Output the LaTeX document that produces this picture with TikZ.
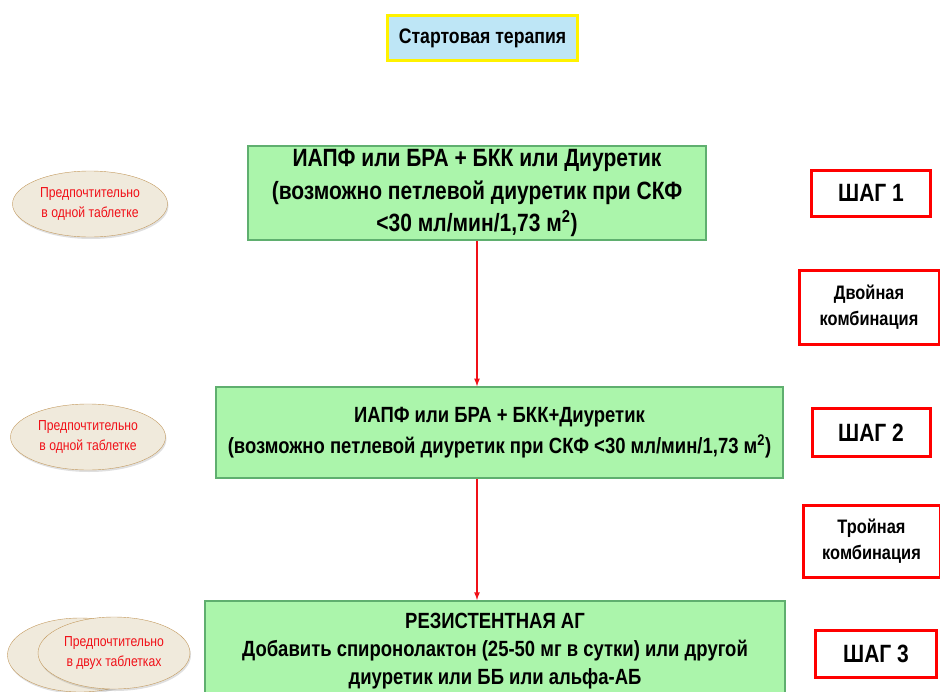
\documentclass[tikz,border=0pt]{standalone}
\usepackage{fontspec}
\setmainfont{Liberation Sans}[FakeStretch=0.84]
\usepackage{xcolor}
\usetikzlibrary{positioning,shapes.geometric,shadows}
\definecolor{boxgreen}{HTML}{ABF5AB}
\definecolor{edgegreen}{HTML}{5FAF6F}
\definecolor{titleblue}{HTML}{BEE6F6}
\definecolor{beige}{HTML}{F0EADC}
\definecolor{tan}{HTML}{C39A5E}
\definecolor{redline}{HTML}{F01018}
\begin{document}
\begin{tikzpicture}[x=1pt,y=-1pt,font=\bfseries,
title/.style={draw=yellow,line width=3pt,fill=titleblue,minimum width=190pt,minimum height=45pt,font=\bfseries\fontsize{21}{24}\selectfont},
box/.style={draw=edgegreen,line width=1.5pt,fill=boxgreen,align=center,font=\bfseries\fontsize{25}{32.5}\selectfont},
oval/.style={ellipse,draw=tan,fill=beige,align=center,text=redline,minimum width=155pt,minimum height=66pt,inner sep=0pt,drop shadow={opacity=0.25,shadow xshift=1pt,shadow yshift=-2pt},font=\fontsize{14.5}{20}\selectfont},
stepbox/.style={draw=red,line width=3pt,fill=white,align=center,font=\bfseries\fontsize{25}{27}\selectfont},
arr/.style={-latex,line width=1.6pt,draw=redline}]
\useasboundingbox (0,0) rectangle (940,691);
\node[title] (start) at (482.5,38) {Стартовая терапия};
\node[box,minimum width=458pt,minimum height=94pt] (step1) at (477,193) {ИАПФ или БРА + БКК или Диуретик\\(возможно петлевой диуретик при СКФ\\<30 мл/мин/1,73 м\textsuperscript{2})};
\node[box,minimum width=567pt,minimum height=91pt,font=\bfseries\fontsize{22}{31}\selectfont] (step2) at (499.5,432.5) {ИАПФ или БРА + БКК+Диуретик\\(возможно петлевой диуретик при СКФ <30 мл/мин/1,73 м\textsuperscript{2})};
\node[box,minimum width=580pt,minimum height=100pt,anchor=north,font=\bfseries\fontsize{22}{28}\selectfont] (step3) at (495,600) {РЕЗИСТЕНТНАЯ АГ\\Добавить спиронолактон (25-50 мг в сутки) или другой\\диуретик или ББ или альфа-АБ};
\draw[arr] (step1.south) -- (step1.south |- step2.north);
\draw[arr] (step1.south |- step2.south) -- (step1.south |- step3.north);
% left ovals
\node[oval] (pref1) at (90,204) {Предпочтительно\\в одной таблетке};
\node[oval] (pref2) at (88,437) {Предпочтительно\\в одной таблетке};
\node[oval,minimum width=145pt,minimum height=74pt] (pref3b) at (80,655) {};
\node[oval,minimum width=152pt,minimum height=72pt] (pref3) at (114,653) {Предпочтительно\\в двух таблетках};
% right labels
\node[stepbox,minimum width=119pt,minimum height=46pt] (lab1) at (871,193) {ШАГ 1};
\node[stepbox,minimum width=140pt,minimum height=74pt,font=\bfseries\fontsize{19.5}{26}\selectfont] (comb1) at (869,307.5) {Двойная\\комбинация};
\node[stepbox,minimum width=118pt,minimum height=48pt] (lab2) at (871,432.5) {ШАГ 2};
\node[stepbox,minimum width=137pt,minimum height=72pt,font=\bfseries\fontsize{19.5}{26}\selectfont] (comb2) at (871.5,541.5) {Тройная\\комбинация};
\node[stepbox,minimum width=121pt,minimum height=47pt] (lab3) at (876,654) {ШАГ 3};
\end{tikzpicture}
\end{document}
